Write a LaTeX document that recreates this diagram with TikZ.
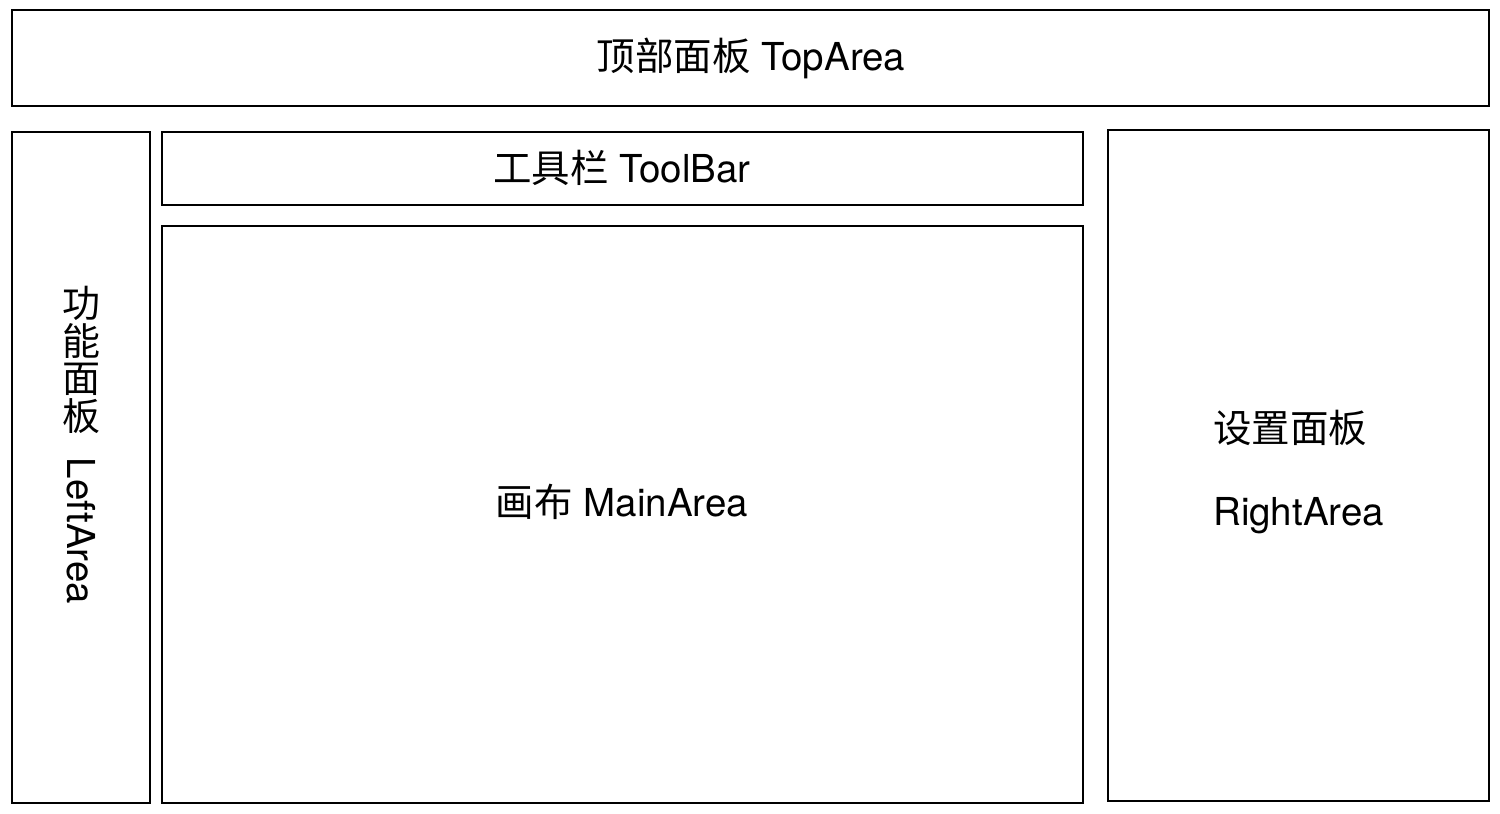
\documentclass[tikz,border=0pt]{standalone}
\usepackage{fontspec}
\setmainfont{TeX Gyre Heros}
\newfontfamily\cjk{Noto Sans CJK SC}
\begin{document}
\begin{tikzpicture}[x=1pt,y=-1pt,
  panel/.style={draw=black,line width=1.6pt},
  lbl/.style={font=\fontsize{38.5}{45}\selectfont,inner sep=0pt}]
\useasboundingbox (0,0) rectangle (1500,814);
\draw[panel] (12,10) rectangle (1489,106);
\draw[panel] (12,132) rectangle (150,803);
\draw[panel] (162,132) rectangle (1083,205);
\draw[panel] (162,226) rectangle (1083,803);
\draw[panel] (1108,130) rectangle (1489,801);
\node[lbl] (top) at (751,58) {{\cjk 顶部面板} TopArea};
\node[lbl] (tool) at (622,168) {{\cjk 工具栏} ToolBar};
\node[lbl] (main) at (622,502) {{\cjk 画布} MainArea};
\node[lbl,anchor=west] (r1) at (1213,428) {\cjk 设置面板};
\node[lbl,anchor=west] (r2) at (1213,516) {RightArea};
\node[lbl,align=center,font=\fontsize{38}{37.5}\selectfont\cjk] (l1) at (81,360) {功\\能\\面\\板};
\node[lbl,rotate=-90] (l2) at (81,531) {LeftArea};
\end{tikzpicture}
\end{document}
